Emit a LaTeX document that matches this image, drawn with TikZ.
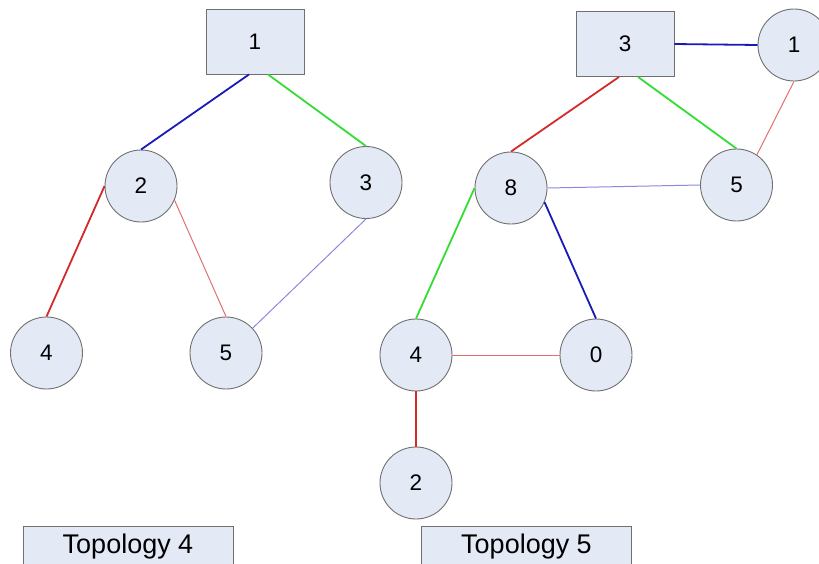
\documentclass[tikz,border=0pt]{standalone}
\usepackage{fontspec}
\setmainfont{Liberation Sans}
\definecolor{nodefill}{HTML}{E4EAF5}
\definecolor{nodeline}{HTML}{707070}
\definecolor{linkblue}{HTML}{1A1AB8}
\definecolor{linkgreen}{HTML}{33DD33}
\definecolor{linkred}{HTML}{D42A2A}
\definecolor{linksalmon}{HTML}{E07070}
\definecolor{linklav}{HTML}{8A8AE0}
\begin{document}
\begin{tikzpicture}[x=1pt,y=-1pt,
  router/.style={circle, draw=nodeline, line width=0.9pt, fill=nodefill,
    minimum size=72pt, inner sep=0pt, font=\fontsize{22.5}{22.5}\selectfont},
  rootbox/.style={rectangle, draw=nodeline, line width=0.9pt, fill=nodefill,
    minimum width=98pt, minimum height=65pt, inner sep=0pt,
    font=\fontsize{22.5}{22.5}\selectfont},
  titlebox/.style={rectangle, draw=nodeline, line width=0.9pt, fill=nodefill,
    minimum width=210pt, minimum height=42pt, inner sep=0pt,
    font=\fontsize{27}{27}\selectfont},
  thick link/.style={line width=1.8pt},
  thin link/.style={line width=1pt}]
\useasboundingbox (0,0) rectangle (819,563);

% ---- Topology 4 ----
\node[rootbox] (a1) at (255,41.5) {1};
\node[router] (a2) at (141,186) {2};
\node[router] (a3) at (366,182.5) {3};
\node[router] (a4) at (46.5,353) {4};
\node[router] (a5) at (226,353) {5};
\node[titlebox] (t4) at (128,547) {Topology 4};

\draw[thick link, linkblue]  ([xshift=-6pt]a1.south) -- (a2.north);
\draw[thick link, linkgreen] ([xshift=13pt]a1.south) -- (a3.north);
\draw[thick link, linkred]   (a2.west) -- (a4.north);
\draw[thin link, linksalmon] (a2.-23) -- (a5.north);
\draw[thin link, linklav]    (a3.south) -- (a5.43);

% ---- Topology 5 ----
\node[rootbox] (b3) at (625,44) {3};
\node[router] (b1) at (794,45) {1};
\node[router] (b8) at (511,188) {8};
\node[router] (b5) at (736.5,185) {5};
\node[router] (b4) at (416,355) {4};
\node[router] (b0) at (596,355) {0};
\node[router] (b2) at (416,483) {2};
\node[titlebox] (t5) at (526.5,547) {Topology 5};

\draw[thick link, linkblue]  (b3.east) -- (b1.west);
\draw[thick link, linkred]   ([xshift=-6pt]b3.south) -- (b8.north);
\draw[thick link, linkgreen] ([xshift=13pt]b3.south) -- (b5.north);
\draw[thin link, linksalmon] (b1.south) -- (b5.56);
\draw[thin link, linklav]    (b8.east) -- (b5.west);
\draw[thick link, linkgreen] (b8.west) -- (b4.north);
\draw[thick link, linkblue]  (b8.-23) -- (b0.north);
\draw[thin link, linksalmon] (b4.east) -- (b0.west);
\draw[thick link, linkred]   (b4.south) -- (b2.north);
\end{tikzpicture}
\end{document}
